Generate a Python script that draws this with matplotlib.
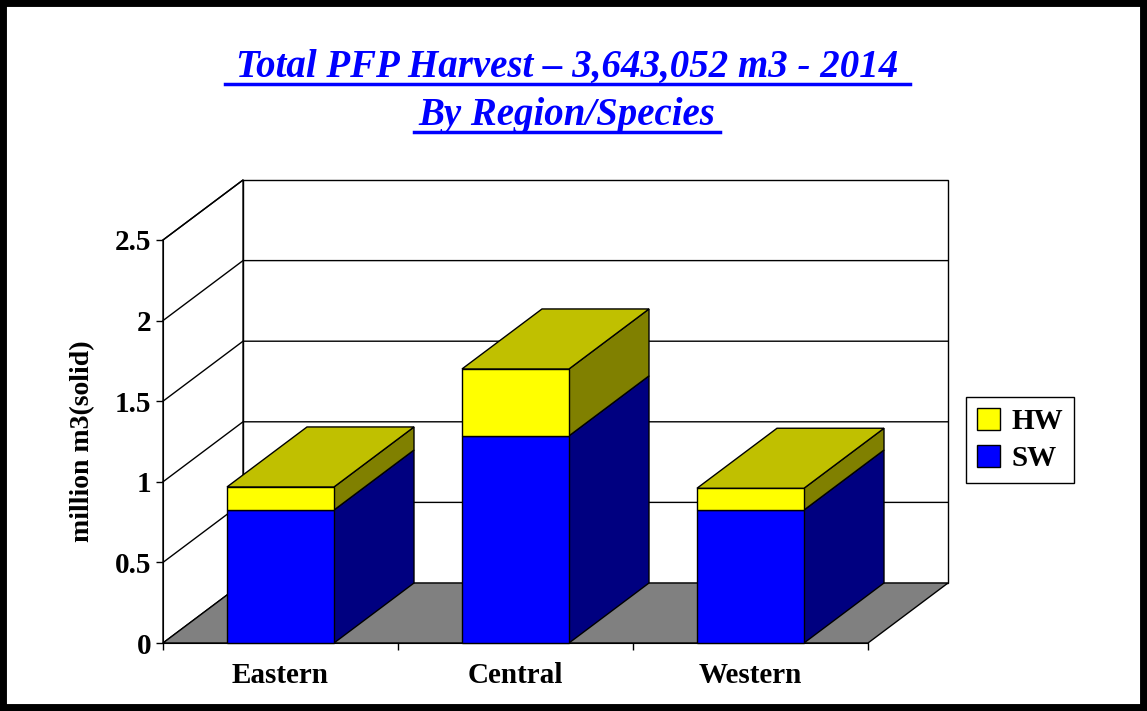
import matplotlib
matplotlib.use("Agg")
import matplotlib.pyplot as plt
from matplotlib.patches import Polygon, Rectangle

plt.rcParams['font.family'] = ['Liberation Serif', 'DejaVu Serif']

# data
regions = ['Eastern', 'Central', 'Western']
sw = [0.825, 1.285, 0.825]
hw = [0.143, 0.415, 0.135]
y_ticks = [0, 0.5, 1, 1.5, 2, 2.5]
y_labels = ['0', '0.5', '1', '1.5', '2', '2.5']

W, H = 1147, 711
fig = plt.figure(figsize=(W / 100, H / 100), dpi=100)
# front plane of the fake 3d box, in pixels
left, right, top, bottom = 163, 868, 240, 643
ax = fig.add_axes([left / W, 1 - bottom / H, (right - left) / W, (bottom - top) / H])
ax.set_xlim(0, 3)
ax.set_ylim(0, 2.5)
ax.patch.set_visible(False)
for s in ['top', 'right']:
    ax.spines[s].set_visible(False)

# depth offset, in data units
dx = 80 / ((right - left) / 3)
dy = 60 / ((bottom - top) / 2.5)

def poly(pts, color, z, lw=1.0):
    ax.add_patch(Polygon(pts, closed=True, facecolor=color, edgecolor='black',
                         linewidth=lw, clip_on=False, zorder=z))

# floor and walls
poly([(0, 0), (3, 0), (3 + dx, dy), (dx, dy)], '#808080', 1)
poly([(dx, dy), (3 + dx, dy), (3 + dx, 2.5 + dy), (dx, 2.5 + dy)], 'white', 0.5)
poly([(0, 0), (dx, dy), (dx, 2.5 + dy), (0, 2.5)], 'white', 0.5)
for t in y_ticks[1:-1]:
    ax.plot([0, dx, 3 + dx], [t, t + dy, t + dy], color='black', lw=1, clip_on=False, zorder=0.8)
ax.plot([0, dx], [2.5, 2.5 + dy], color='black', lw=1, clip_on=False, zorder=0.8)

# stacked boxes
width = 107 / ((right - left) / 3)
for i in range(len(regions)):
    x0 = i + 0.5 - width / 2
    x1 = x0 + width
    bases = [0, sw[i]]
    vals = [sw[i], hw[i]]
    cols = [('#0000FF', '#000080'), ('#FFFF00', '#808000')]
    for b, v, (c_front, c_side) in zip(bases, vals, cols):
        poly([(x1, b), (x1 + dx, b + dy), (x1 + dx, b + v + dy), (x1, b + v)], c_side, 3)
        ax.bar(x0, v, width, bottom=b, align='edge', color=c_front, edgecolor='black',
               linewidth=1, clip_on=False, zorder=3)
    t = sw[i] + hw[i]
    poly([(x0, t), (x1, t), (x1 + dx, t + dy), (x0 + dx, t + dy)], '#C0C000', 3)

ax.set_yticks(y_ticks)
ax.set_yticklabels(y_labels, fontsize=21, fontweight='bold')
ax.set_xticks([0, 1, 2, 3])
ax.set_xticklabels([])
ax.set_xticks([0.5, 1.5, 2.5], regions, minor=True, fontsize=21, fontweight='bold')
ax.tick_params(axis='x', which='minor', length=0, pad=14)
ax.tick_params(axis='both', which='major', length=5, width=1)
ax.set_ylabel('million m3(solid)', fontsize=20, fontweight='bold', labelpad=14)

# title
fig.text(567 / W, 1 - 67 / H, 'Total PFP Harvest – 3,643,052 m3 - 2014', ha='center', va='center',
         fontsize=28, fontweight='bold', fontstyle='italic', color='#0000FF').set_usetex(False)
fig.text(567 / W, 1 - 115 / H, 'By Region/Species', ha='center', va='center',
         fontsize=28, fontweight='bold', fontstyle='italic', color='#0000FF')
fig.add_artist(plt.Line2D([225 / W, 910 / W], [1 - 84 / H] * 2, color='#0000FF', lw=2.5))
fig.add_artist(plt.Line2D([414 / W, 720 / W], [1 - 132 / H] * 2, color='#0000FF', lw=2.5))

# legend
handles = [Rectangle((0, 0), 1, 1, facecolor='#FFFF00', edgecolor='black'),
           Rectangle((0, 0), 1, 1, facecolor='#0000FF', edgecolor='black')]
leg = fig.legend(handles, ['HW', 'SW'], loc='center', bbox_to_anchor=(1020 / W, 1 - 440 / H),
                 prop={'size': 21, 'weight': 'bold'}, fancybox=False, edgecolor='black',
                 framealpha=1, handlelength=0.8, handleheight=0.8, handletextpad=0.4,
                 labelspacing=0.35, borderpad=0.35)
leg.get_frame().set_linewidth(1)

# outer border
fig.add_artist(Rectangle((0, 0), 1, 1, transform=fig.transFigure, fill=False,
                         edgecolor='black', linewidth=10))

fig.savefig('out.png', dpi=100)
